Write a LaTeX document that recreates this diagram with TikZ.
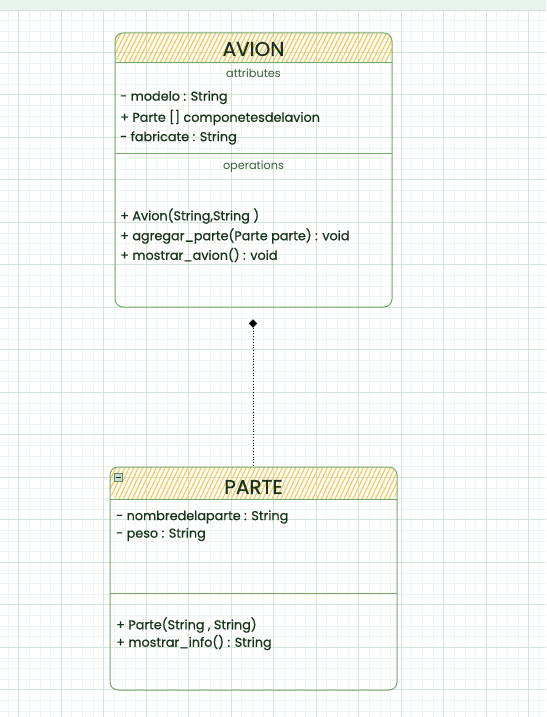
\documentclass[tikz,border=0pt]{standalone}
\usepackage{fontspec}
\setmainfont{Poppins}[FakeBold=0.6]
\newfontfamily\thinfont{Poppins}
\usetikzlibrary{shapes.geometric}
\definecolor{topstrip}{HTML}{E9F3EE}
\definecolor{gridmajor}{HTML}{D3E5D6}
\definecolor{gridminor}{HTML}{EDF5EF}
\definecolor{boxline}{HTML}{76A86A}
\definecolor{hatch}{HTML}{F6CB5E}
\definecolor{txt}{HTML}{17331A}
\definecolor{txtlight}{HTML}{3D5C3D}
\tikzset{
  umlbox/.style={draw=boxline, line width=1pt, rounded corners=8pt, inner sep=0pt},
  sepline/.style={draw=boxline, line width=1pt},
  titletext/.style={text=txt, font=\fontsize{20}{23}\selectfont, anchor=center, inner sep=0pt},
  sectext/.style={text=txtlight, font=\thinfont\fontsize{11.3}{13}\selectfont, anchor=center, inner sep=0pt},
  membertext/.style={text=txt, font=\fontsize{12.8}{15}\selectfont, anchor=west, inner sep=0pt},
  hatchline/.style={draw=hatch, line width=1.2pt},
  minorgrid/.style={draw=gridminor, line width=0.8pt},
  majorgrid/.style={draw=gridmajor, line width=0.9pt},
}
\begin{document}
\begin{tikzpicture}[x=1pt,y=-1pt]
\useasboundingbox (0,0) rectangle (546,717);
\fill[white] (0,0) rectangle (546,717);
% grid
\foreach \i in {0,...,51} {\draw[minorgrid] ({8.125+\i*10.625},10) -- ({8.125+\i*10.625},717);}
\foreach \i in {0,...,66} {\draw[minorgrid] (0,{9.8+\i*10.625}) -- (546,{9.8+\i*10.625});}
\foreach \i in {0,...,12} {\draw[majorgrid] ({18.75+\i*42.5},10) -- ({18.75+\i*42.5},717);}
\foreach \i in {0,...,16} {\draw[majorgrid] (0,{9.8+\i*42.5}) -- (546,{9.8+\i*42.5});}
\fill[topstrip] (0,0) rectangle (546,10);
\draw[majorgrid] (0,10) -- (546,10);

% ---------- AVION ----------
\begin{scope}
\clip[rounded corners=8pt] (115,33) -- (392,33) -- (392,63) -- (115,63) -- cycle;
\foreach \i in {0,...,70} {\draw[hatchline] ({100+\i*4.5},66) -- ({100+\i*4.5+18},30);}
\end{scope}
\node[umlbox, minimum width=277pt, minimum height=274pt] (avion) at (253.5,170) {};
\draw[sepline] (115,63) -- (392,63);
\draw[sepline] (115,153) -- (392,153);
\node[titletext] (avionname) at (253.5,49) {AVION};
\node[sectext] (avionattr) at (253.5,73) {attributes};
\node[membertext] (a1) at (120,97.5) {- modelo : String};
\node[membertext] (a2) at (120,117.5) {+ Parte [] componetesdelavion};
\node[membertext] (a3) at (120,138) {- fabricate : String};
\node[sectext] (avionops) at (253.5,167) {operations};
\node[membertext] (m1) at (120,216) {+ Avion(String,String )};
\node[membertext] (m2) at (120,236) {+ agregar\_parte(Parte parte) : void};
\node[membertext] (m3) at (120,255) {+ mostrar\_avion() : void};

% ---------- PARTE ----------
\begin{scope}
\clip[rounded corners=8pt] (110,467) -- (397,467) -- (397,499) -- (110,499) -- cycle;
\foreach \i in {0,...,72} {\draw[hatchline] ({95+\i*4.5},502) -- ({95+\i*4.5+18},464);}
\end{scope}
\node[umlbox, minimum width=287pt, minimum height=223pt] (parte) at (253.5,578.5) {};
\draw[sepline] (110,499) -- (397,499);
\draw[sepline] (110,593) -- (397,593);
\node[draw={rgb,255:red,100;green,140;blue,100}, fill={rgb,255:red,200;green,220;blue,205}, minimum width=8.5pt, minimum height=8pt, inner sep=0pt, line width=0.6pt] (collapse) at (118.5,477) {};
\draw[txt, line width=0.9pt] ([xshift=-2.5pt]collapse.center) -- ([xshift=2.5pt]collapse.center);
\node[titletext] (partename) at (253.5,487) {PARTE};
\node[membertext] (p1) at (116,517) {- nombredelaparte : String};
\node[membertext] (p2) at (116,534.5) {- peso : String};
\node[membertext] (pm1) at (116,625) {+ Parte(String , String)};
\node[membertext] (pm2) at (116,642.5) {+ mostrar\_info() : String};

% ---------- composition connector ----------
\node[diamond, fill=black, draw=black, minimum width=8pt, minimum height=8pt, inner sep=0pt] (dia) at (253,323.5) {};
\draw[black, line width=0.8pt, dotted] (dia.south) -- (parte.north -| dia.south);
\end{tikzpicture}
\end{document}
